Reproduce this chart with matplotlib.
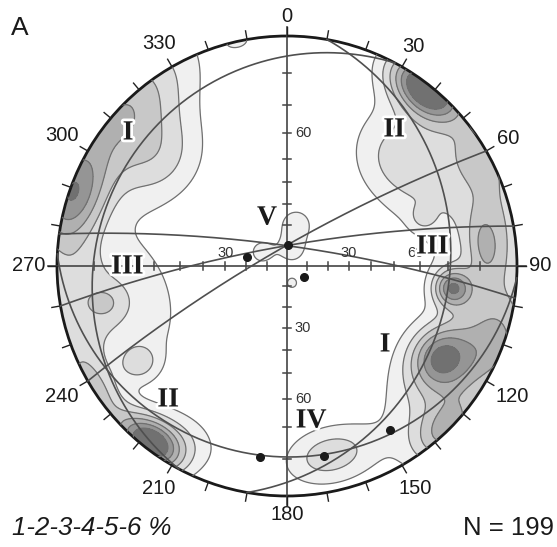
import numpy as np
import matplotlib.pyplot as plt
from matplotlib.patches import Circle
import matplotlib.patheffects as pe

NET_PX = 230.0  # net radius in pixels, used to scale the kernel spreads

# pole-density clusters: centre (trend, plunge in degrees), peak (%),
# radial / tangential spread (px on the net)
blob_trend = [38.0, 217.7, 120.7, 110.4, 136.4, 127.3, 97.6, 84.0, 62.0, 60.3, 45.5,
              288.3, 313.0, 309.9, 260.9, 257.0, 258.4, 236.6, 236.1, 210.4,
              12.4, 17.4, 299.2, 163.6, 70.2, 347.7, 167.2, 100.0, 75.0]
blob_plunge = [1.0, 1.5, 14.5, 0.7, 0.2, 7.5, 18.2, 8.5, 12.0, 2.6, 23.3,
               0.9, 0.4, 18.6, 3.9, 23.5, 12.7, 15.1, 0.0, 7.5,
               69.3, 81.6, 75.8, 81.2, 25.7, 0.0, 9.7, 8.0, 2.0]
blob_peak = [7.2, 7.0, 4.4, 2.6, 2.9, 2.5, 4.9, 2.0, 2.2, 1.3, 1.4,
             4.5, 3.8, 2.0, 2.5, 1.5, 1.1, 1.9, 2.6, 1.5,
             1.6, 1.4, 1.45, 1.3, 1.3, 1.3, 2.6, 1.6, 1.4]
blob_sr = [18, 16, 20, 24, 18, 40, 13, 12, 45, 14, 28,
           24, 35, 30, 28, 32, 12, 13, 16, 20,
           13, 11, 10, 6, 8, 6, 20, 25, 20]
blob_st = [28, 24, 22, 34, 26, 50, 13, 24, 70, 20, 32,
           34, 60, 35, 65, 55, 12, 12, 32, 28,
           13, 11, 10, 6, 8, 10, 32, 40, 70]

contour_levels = [1, 2, 3, 4, 5, 6]
fill_colors = ['#f0f0f0', '#dddddd', '#c8c8c8', '#b0b0b0', '#959595', '#717171']

# great circles (dip direction, dip)
gc_dipdir = [100, 298, 183, 8, 350, 330]
gc_dip = [19.5, 11, 10.6, 80, 80, 81]

# plotted axes (trend, plunge)
pt_trend = [3, 283, 123, 188, 169, 148]
pt_plunge = [79.6, 69.8, 79.9, 10, 9.9, 9.8]

az_labels = ['0', '30', '60', '90', '120', '150', '180', '210', '240', '270', '300', '330']

# roman numeral labels, positions in net pixels from the top-left of the image
roman_text = ['I', 'II', 'III', 'III', 'V', 'I', 'II', 'IV']
roman_px = [128, 394, 127, 432, 267, 385, 168, 311]
roman_py = [133, 130, 267, 247, 218, 345, 400, 421]

CX, CY = 287, 266  # net centre in image pixels


def project(trend, plunge):
    t = np.radians(np.asarray(trend, float))
    theta = np.radians(90 - np.asarray(plunge, float))
    r = np.tan(theta / 2)
    return r * np.sin(t), r * np.cos(t)


def great_circle(dipdir, dip, n=400):
    dd, d = np.radians(dipdir), np.radians(dip)
    s = np.array([np.sin(dd - np.pi / 2), np.cos(dd - np.pi / 2), 0.0])
    v = np.array([np.sin(dd) * np.cos(d), np.cos(dd) * np.cos(d), np.sin(d)])
    phi = np.linspace(0, np.pi, n)
    pts = np.outer(np.cos(phi), s) + np.outer(np.sin(phi), v)
    plunge = np.degrees(np.arcsin(np.clip(pts[:, 2], -1, 1)))
    trend = np.degrees(np.arctan2(pts[:, 0], pts[:, 1]))
    return project(trend, plunge)


fig = plt.figure(figsize=(5.57, 5.47), dpi=100)
ax = fig.add_axes([0, 0, 1, 1])
ax.set_xlim(-CX / NET_PX, (557 - CX) / NET_PX)
ax.set_ylim(-(547 - CY) / NET_PX, CY / NET_PX)
ax.set_aspect('equal')
ax.axis('off')

# density grid on the projection plane
g = np.linspace(-1.08, 1.08, 600)
X, Y = np.meshgrid(g, g)
dens = np.zeros_like(X)
bx, by = project(blob_trend, blob_plunge)
for cx, cy, pk, sr, st in zip(bx, by, blob_peak, blob_sr, blob_st):
    rr = np.hypot(cx, cy)
    er = np.array([cx, cy]) / rr if rr > 1e-6 else np.array([0.0, 1.0])
    et = np.array([-er[1], er[0]])
    dr = (X - cx) * er[0] + (Y - cy) * er[1]
    dt = (X - cx) * et[0] + (Y - cy) * et[1]
    dens += pk * np.exp(-0.5 * ((dr * NET_PX / sr) ** 2 + (dt * NET_PX / st) ** 2))

clip = Circle((0, 0), 1, transform=ax.transData)
cf = ax.contourf(X, Y, dens, levels=contour_levels + [1000], colors=fill_colors)
cf.set_clip_path(clip)
cl = ax.contour(X, Y, dens, levels=contour_levels, colors='#707070', linewidths=0.9)
cl.set_clip_path(clip)

# axes cross with ticks every 10 degrees
ax.plot([0, 0], [-1.04, 1.04], color='#444444', lw=1.2)
ax.plot([-1.04, 1.04], [0, 0], color='#444444', lw=1.2)
tk = 0.018
for a in range(10, 90, 10):
    d = np.tan(np.radians(a) / 2)
    for sgn in (-1, 1):
        ax.plot([-tk, tk], [sgn * d, sgn * d], color='#444444', lw=1.1)
        ax.plot([sgn * d, sgn * d], [-tk, tk], color='#444444', lw=1.1)

# primitive ticks
for az in range(0, 360, 10):
    a = np.radians(az)
    ax.plot([np.sin(a), 1.038 * np.sin(a)], [np.cos(a), 1.038 * np.cos(a)],
            color='#222222', lw=1.0)

for dd, dp in zip(gc_dipdir, gc_dip):
    gx, gy = great_circle(dd, dp)
    ax.plot(gx, gy, color='#4f4f4f', lw=1.2)

ax.add_patch(Circle((0, 0), 1, fill=False, ec='#1a1a1a', lw=2.0))

px, py = project(pt_trend, pt_plunge)
ax.plot(px, py, 'o', color='#1a1a1a', ms=5.5)

# azimuth labels, pushed out by half their size
for i, lab in enumerate(az_labels):
    a = np.radians(30 * i)
    w, h = 5.6 * len(lab), 7.0
    dist = (242 + w * abs(np.sin(a)) + h * abs(np.cos(a))) / NET_PX
    ax.text(dist * np.sin(a), dist * np.cos(a), lab, ha='center', va='center',
            fontsize=14.5, family='Liberation Sans', color='#1a1a1a')


def d_of(a):
    return np.tan(np.radians(a) / 2)


inner = [('60', 0.07, d_of(60)), ('30', 0.07, -d_of(30)), ('60', 0.07, -d_of(60)),
         ('30', -d_of(30), 0.055), ('30', d_of(30), 0.055), ('60', d_of(60) - 0.02, 0.055)]
for lab, x, y in inner:
    ax.text(x, y, lab, ha='center', va='center', fontsize=10.5,
            family='Liberation Sans', color='#333333')

halo = [pe.withStroke(linewidth=4, foreground='white')]
for lab, x, y in zip(roman_text, roman_px, roman_py):
    ax.text((x - CX) / NET_PX, (CY - y) / NET_PX, lab, ha='center', va='center',
            fontsize=20, family='Liberation Serif', fontweight='bold',
            color='#1a1a1a', path_effects=halo)

fig.text(20 / 557, 1 - 28 / 547, 'A', ha='center', va='center', fontsize=19,
         family='Liberation Sans', color='#1a1a1a')
fig.text(12 / 557, 1 - 528 / 547, '1-2-3-4-5-6 %', ha='left', va='center', fontsize=18.5,
         family='Liberation Sans', style='italic', color='#1a1a1a')
fig.text(554 / 557, 1 - 528 / 547, 'N = 199', ha='right', va='center', fontsize=18.5,
         family='Liberation Sans', color='#1a1a1a')

fig.savefig('out.png', dpi=100)
